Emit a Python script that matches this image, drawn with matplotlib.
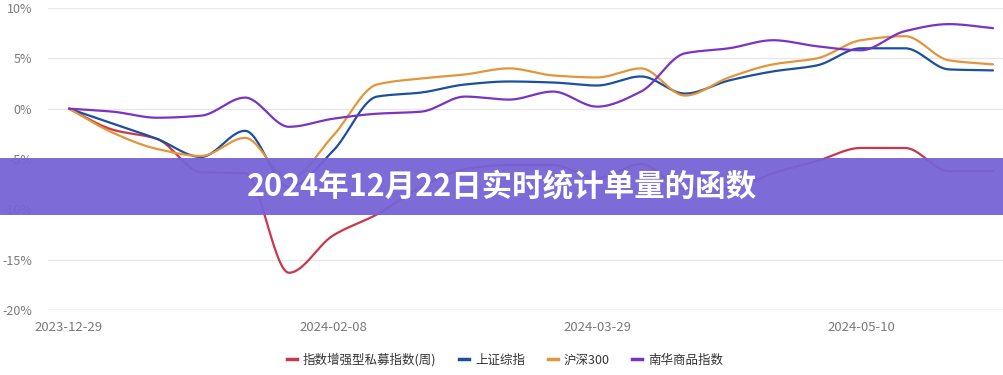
import numpy as np
import matplotlib
matplotlib.use("Agg")
import matplotlib.pyplot as plt
from matplotlib.lines import Line2D
from matplotlib.patches import Rectangle

plt.rcParams['font.family'] = ['Noto Sans CJK SC', 'DejaVu Sans']

# ---- data ----
dates = ["2023-12-29", "2024-01-05", "2024-01-12", "2024-01-19", "2024-01-26", "2024-02-02",
         "2024-02-08", "2024-02-23", "2024-03-01", "2024-03-08", "2024-03-15", "2024-03-22",
         "2024-03-29", "2024-04-03", "2024-04-12", "2024-04-19", "2024-04-26", "2024-04-30",
         "2024-05-10", "2024-05-17", "2024-05-24", "2024-05-31"]
tick_labels = ["2023-12-29", "2024-02-08", "2024-03-29", "2024-05-10"]

enhanced_private = [0, -2.1, -3.0, -6.3, -6.4, -16.3, -12.6, -10.5, -7.8, -6.0, -5.6,
                    -5.6, -6.9, -5.5, -8.0, -8.0, -6.4, -5.2, -3.9, -3.9, -6.2, -6.2]
shanghai_comp = [0, -1.5, -3.0, -4.8, -2.2, -7.8, -4.2, 1.2, 1.6, 2.4, 2.7,
                 2.6, 2.3, 3.2, 1.5, 2.8, 3.7, 4.3, 6.0, 6.0, 3.9, 3.8]
csi300 = [0, -2.4, -4.0, -4.7, -2.9, -7.0, -2.7, 2.4, 3.0, 3.4, 4.0,
          3.3, 3.1, 4.0, 1.3, 3.1, 4.4, 5.0, 6.8, 7.2, 4.8, 4.4]
nanhua = [0, -0.3, -0.9, -0.7, 1.1, -1.8, -1.0, -0.5, -0.3, 1.2, 0.9,
          1.7, 0.2, 1.7, 5.5, 6.0, 6.8, 6.2, 5.8, 7.7, 8.4, 8.0]

series_names = ["指数增强型私募指数(周)", "上证综指", "沪深300", "南华商品指数"]
series_values = [enhanced_private, shanghai_comp, csi300, nanhua]
colors = ["#c8374b", "#1c4f9e", "#e3953b", "#7a33c2"]
title = "2024年12月22日实时统计单量的函数"


def smooth_curve(y, n=30):
    """Monotone cubic (Fritsch-Carlson) rendering of the polyline."""
    y = np.asarray(y, float)
    x = np.arange(len(y), dtype=float)
    d = np.diff(y)
    m = np.zeros_like(y)
    m[0], m[-1] = d[0], d[-1]
    for i in range(1, len(y) - 1):
        if d[i - 1] * d[i] <= 0:
            m[i] = 0.0
        else:
            m[i] = 2.0 / (1.0 / d[i - 1] + 1.0 / d[i])
    xs, ys = [], []
    for i in range(len(y) - 1):
        t = np.linspace(0, 1, n, endpoint=False)
        h00 = 2 * t**3 - 3 * t**2 + 1
        h10 = t**3 - 2 * t**2 + t
        h01 = -2 * t**3 + 3 * t**2
        h11 = t**3 - t**2
        xs.append(x[i] + t)
        ys.append(h00 * y[i] + h10 * m[i] + h01 * y[i + 1] + h11 * m[i + 1])
    xs.append([x[-1]])
    ys.append([y[-1]])
    return np.concatenate(xs), np.concatenate(ys)


W, H = 1004, 375
fig = plt.figure(figsize=(W / 100, H / 100), dpi=100)
left_px, right_px, top_px, bot_px = 48, 1004, 8, 310
ax = fig.add_axes([left_px / W, 1 - bot_px / H, (right_px - left_px) / W, (bot_px - top_px) / H])

# x positions: category i at 69 + 44*i px
x0_px, step = 69, 44
ax.set_xlim((left_px - x0_px) / step, (right_px - x0_px) / step)
ax.set_ylim(-20, 10)

for s in ax.spines.values():
    s.set_visible(False)
yt = [10, 5, 0, -5, -10, -15, -20]
for v in yt:
    ax.axhline(v, color="#cfcfd6" if v == -20 else "#e8e8ea", lw=1.0, zorder=0)
ax.set_yticks(yt)
ax.set_yticklabels([f"{v}%" for v in yt], color="#7a7a7a", fontsize=9)
ax.tick_params(axis="y", length=0, pad=11.5)
tick_pos = [dates.index(t) for t in tick_labels]
ax.set_xticks(tick_pos)
ax.set_xticklabels(tick_labels, color="#7a7a7a", fontsize=9.5)
ax.tick_params(axis="x", length=0, pad=8)

for name, vals, c in zip(series_names, series_values, colors):
    xs, ys = smooth_curve(vals)
    ax.plot(xs, ys, color=c, lw=1.6, label=name, solid_capstyle="round", zorder=3)

# title banner
fig.patches.append(Rectangle((0, 1 - 215 / H), 1, 57 / H, transform=fig.transFigure,
                             facecolor="#7663d6", alpha=0.95, edgecolor="none", zorder=10))
fig.text(0.5, 1 - 187 / H, title, color="white", fontsize=22, fontweight="heavy",
         ha="center", va="center", zorder=11)

handles = [Line2D([0], [0], color=c, lw=2.5) for c in colors]
leg = fig.legend(handles, series_names, loc="center", bbox_to_anchor=(0.503, 1 - 360 / H),
                 ncol=4, frameon=False, fontsize=9, handlelength=0.8, handletextpad=0.5,
                 columnspacing=1.8)
for t in leg.get_texts():
    t.set_color("#333333")

fig.savefig("out.png", dpi=100)
